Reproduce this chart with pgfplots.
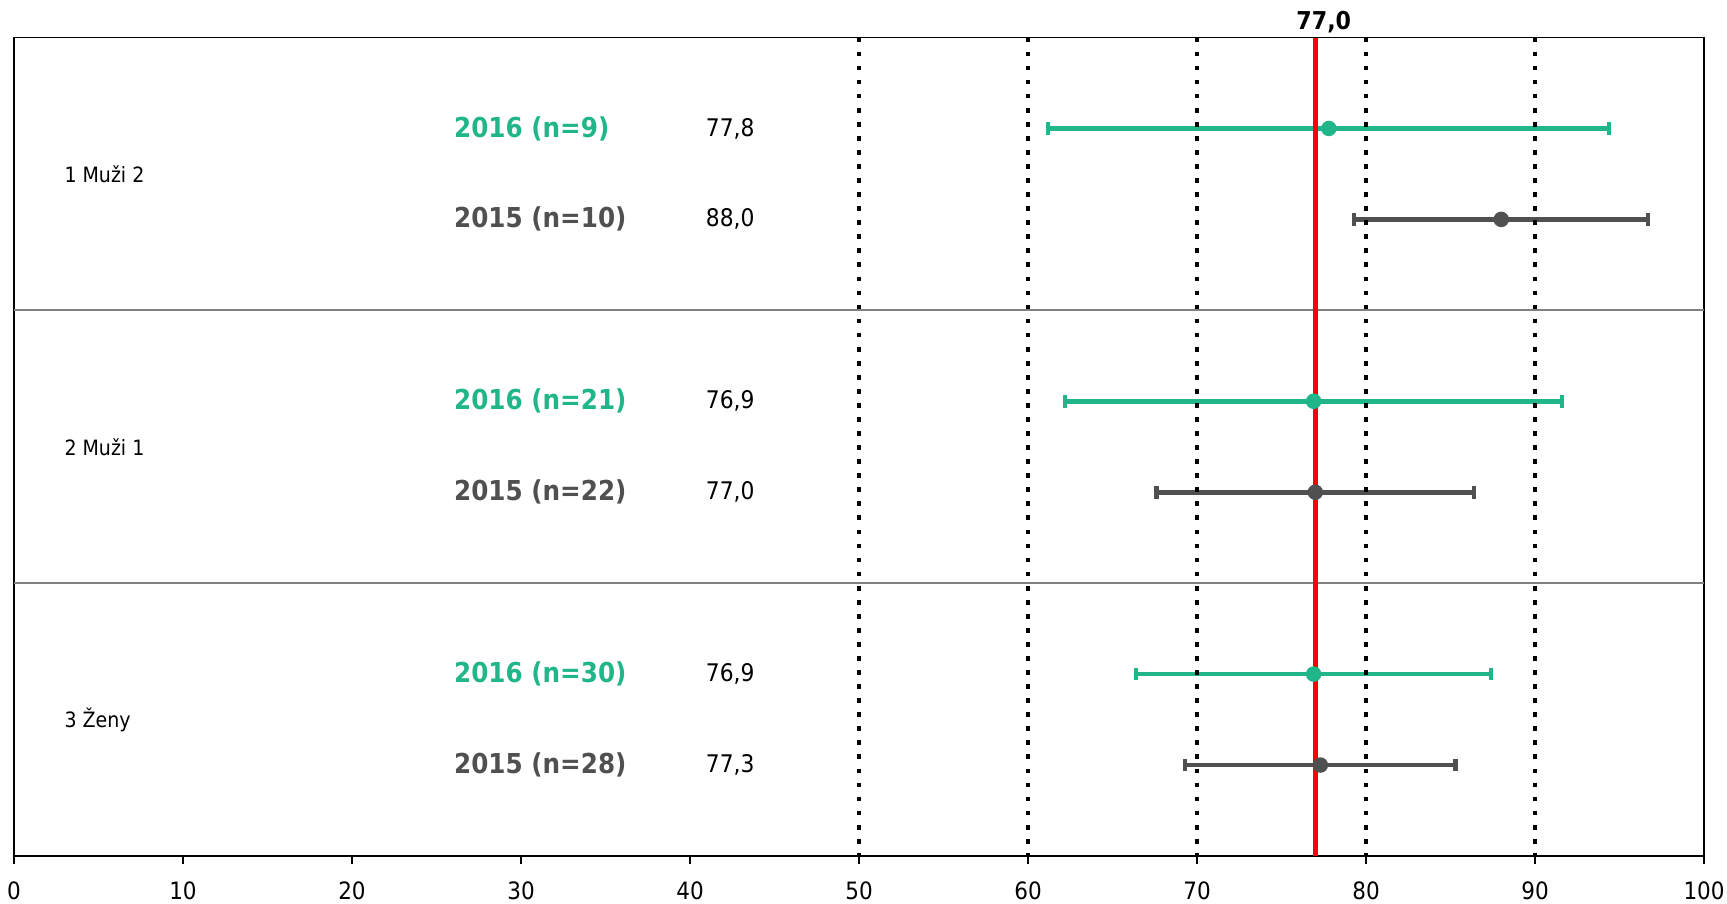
\documentclass[border=0pt]{standalone}
\usepackage{pgfplots}
\usepackage{pgfplotstable}
\usepackage{fontspec}
\pgfplotsset{compat=1.18}
\setmainfont{DejaVu Sans Condensed}

\definecolor{grn}{HTML}{21B68A}
\definecolor{dgr}{HTML}{505050}

% y: row position (reversed axis), m: mean, e: half width of interval
\pgfplotstableread{
y m e
1 77.8 16.6
4 76.9 14.7
7 76.9 10.5
}\yrA
\pgfplotstableread{
y m e
2 88.0 8.7
5 77.0 9.4
8 77.3 8.0
}\yrB

\newcommand{\lab}[1]{\fontsize{7.8}{9}\selectfont\bfseries #1}
\newcommand{\val}[1]{\fontsize{6.9}{8}\selectfont #1}
\newcommand{\grp}[1]{\fontsize{6.0}{7}\selectfont #1}

\begin{document}
\begin{tikzpicture}
\begin{axis}[name=ax,
  width=16.9cm, height=8.185cm, scale only axis,
  xmin=0, xmax=100, ymin=0, ymax=9, y dir=reverse,
  xtick={0,10,...,100}, ytick=\empty,
  xtick pos=left, tick align=outside,
  major tick length=2.3pt,
  tick style={black, line width=0.4pt},
  xticklabel style={font=\fontsize{6.8}{8}\selectfont, yshift=-1.6pt},
  /pgf/number format/assume math mode=true,
  axis line style={black, line width=0.5pt},
  clip=false]

  % separators between groups
  \draw[gray, line width=0.5pt] (axis cs:0,3) -- (axis cs:100,3);
  \draw[gray, line width=0.5pt] (axis cs:0,6) -- (axis cs:100,6);

  \addplot[grn, mark=*, mark size=2pt, only marks,
    error bars/.cd, x dir=both, x explicit,
    error bar style={line width=1.3pt, grn},
    error mark options={rotate=90, line width=1.2pt, mark size=1.8pt, grn}]
    table[x=m, y=y, x error=e] {\yrA};
  \addplot[dgr, mark=*, mark size=2pt, only marks,
    error bars/.cd, x dir=both, x explicit,
    error bar style={line width=1.3pt, dgr},
    error mark options={rotate=90, line width=1.2pt, mark size=1.8pt, dgr}]
    table[x=m, y=y, x error=e] {\yrB};

  % dotted reference lines
  \foreach \xx in {50,60,70,80,90} {
    \edef\tmp{\noexpand\draw[black, line width=1pt, dash pattern=on 1.35pt off 2.65pt]
      (axis cs:\xx,0) -- (axis cs:\xx,9);}\tmp
  }

  % overall mean
  \addplot[red, line width=1.3pt] coordinates {(77,0) (77,9)};
  \node[anchor=base, inner sep=0pt, yshift=2.3pt, font=\fontsize{7}{8}\selectfont\bfseries]
    at (axis cs:77.5,0) {77,0};

  % group names
  \node[anchor=west, inner sep=0pt] at (axis cs:2.95,1.5) {\grp{1 Muži 2}};
  \node[anchor=west, inner sep=0pt] at (axis cs:2.95,4.5) {\grp{2 Muži 1}};
  \node[anchor=west, inner sep=0pt] at (axis cs:2.95,7.5) {\grp{3 Ženy}};

  % series labels
  \node[anchor=west, inner sep=0pt, grn] at (axis cs:26.0,1) {\lab{2016 (n=9)}};
  \node[anchor=west, inner sep=0pt, dgr] at (axis cs:26.0,2) {\lab{2015 (n=10)}};
  \node[anchor=west, inner sep=0pt, grn] at (axis cs:26.0,4) {\lab{2016 (n=21)}};
  \node[anchor=west, inner sep=0pt, dgr] at (axis cs:26.0,5) {\lab{2015 (n=22)}};
  \node[anchor=west, inner sep=0pt, grn] at (axis cs:26.0,7) {\lab{2016 (n=30)}};
  \node[anchor=west, inner sep=0pt, dgr] at (axis cs:26.0,8) {\lab{2015 (n=28)}};

  % values
  \node[anchor=west, inner sep=0pt] at (axis cs:40.9,1) {\val{77,8}};
  \node[anchor=west, inner sep=0pt] at (axis cs:40.9,2) {\val{88,0}};
  \node[anchor=west, inner sep=0pt] at (axis cs:40.9,4) {\val{76,9}};
  \node[anchor=west, inner sep=0pt] at (axis cs:40.9,5) {\val{77,0}};
  \node[anchor=west, inner sep=0pt] at (axis cs:40.9,7) {\val{76,9}};
  \node[anchor=west, inner sep=0pt] at (axis cs:40.9,8) {\val{77,3}};
\end{axis}
\pgfresetboundingbox
\path[use as bounding box] ([shift={(-0.14cm,-0.48cm)}]ax.south west)
  rectangle ([shift={(0.23cm,0.375cm)}]ax.north east);
\end{tikzpicture}
\end{document}
